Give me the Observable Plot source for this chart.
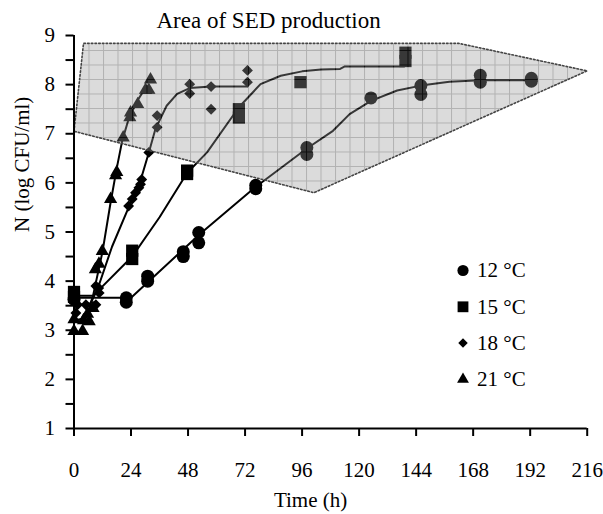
<!DOCTYPE html>
<html><head><meta charset="utf-8">
<script src="https://cdn.jsdelivr.net/npm/d3@7"></script>
<script src="https://cdn.jsdelivr.net/npm/@observablehq/plot@0.6"></script>
<style>body{margin:0;background:#fff;} #chart{width:603px;height:514px;}</style>
</head><body><div id="chart"></div>
<script>
// ---- data ----
const seriesNames = ["12 °C", "15 °C", "18 °C", "21 °C"];
const seriesSymbols = ["circle", "square", "diamond2", "triangle"];
const xTicks = [0, 24, 48, 72, 96, 120, 144, 168, 192, 216];
const yTicks = [1, 1.5, 2, 2.5, 3, 3.5, 4, 4.5, 5, 5.5, 6, 6.5, 7, 7.5, 8, 8.5, 9];
const titleText = "Area of SED production";
const xLabel = "Time (h)";
const yLabel = "N (log CFU/ml)";

// observed counts [time h, log CFU/ml]
const obs12 = [[0,3.63],[22,3.57],[22,3.66],[31,4.0],[31,4.1],[46,4.5],[46,4.6],[52.5,4.78],[52.5,4.99],[76.5,5.88],[76.5,5.95],[98,6.58],[98,6.72],[125,7.73],[146,7.8],[146,7.98],[171,8.05],[171,8.19],[192.5,8.07],[192.5,8.13]];
const obs15 = [[0,3.68],[0,3.78],[24.5,4.45],[24.5,4.62],[47.6,6.18],[47.6,6.25],[69.4,7.33],[69.4,7.5],[95.3,8.05],[139.5,8.48],[139.5,8.65]];
const obs18 = [[0.8,3.35],[1.5,3.52],[5,3.52],[9.2,3.52],[10.6,3.76],[9.2,3.9],[10.4,3.86],[23,5.53],[24.5,5.67],[25.9,5.8],[27.3,5.9],[28,5.97],[28.5,6.07],[31.5,6.62],[35,7.13],[35,7.37],[48.7,7.82],[48.7,8.01],[57.7,7.5],[57.7,7.96],[73,8.05],[73,8.29]];
const obs21 = [[0,2.98],[0,3.22],[3.6,2.98],[5.7,3.33],[6.4,3.18],[4,3.2],[8,3.45],[9,4.24],[10.5,4.35],[11.9,4.61],[15.4,5.67],[17.5,6.15],[18,6.22],[20.7,6.92],[23.5,7.33],[23.8,7.43],[26.8,7.6],[30.1,7.89],[31.5,7.89],[32.2,8.1]];

// fitted growth curves [time h, log CFU/ml]
const fit12 = [[0,3.66],[24,3.66],[53,4.96],[76,5.9],[98,6.7],[109,7.06],[116,7.4],[125,7.67],[136,7.88],[146,7.98],[158,8.06],[171,8.09],[193,8.09]];
const fit15 = [[0,3.7],[8,3.7],[24.5,4.5],[36,5.3],[47.6,6.2],[56,6.62],[69.4,7.54],[78.5,8.01],[87,8.18],[96,8.27],[104,8.31],[112,8.32],[114,8.37],[139,8.37]];
const fit18 = [[0,3.5],[7,3.55],[10,3.85],[16,4.7],[23,5.5],[28,6.05],[31.5,6.62],[34.3,7.1],[39,7.57],[43.4,7.81],[48.7,7.93],[57.7,7.96],[73,7.96]];
const fit21 = [[0,3.2],[5,3.25],[8,3.7],[12,4.6],[15.4,5.6],[18,6.3],[20.3,6.86],[23,7.3],[26.6,7.67],[29.4,7.88],[31.5,7.91]];

// area of SED production (polygon vertices)
const sedArea = [[0,7.05],[4,8.84],[162,8.84],[216,8.28],[101,5.8]];

// ---- build tables ----
const obsAll = [obs12, obs15, obs18, obs21];
const fitAll = [fit12, fit15, fit18, fit21];
const points = obsAll.flatMap((arr, i) => arr.map(([t, n]) => ({t, n, s: i})));
const curves = fitAll.flatMap((arr, i) => arr.map(([t, n]) => ({t, n, s: i})));
const area = sedArea.map(([t, n]) => ({t, n}));

const FONT = "'Liberation Serif', 'Times New Roman', serif";
const symR = [6.5, 6.9, 4.9, 4.9];
const legR = [5.6, 6.1, 4.3, 4.4];

const ns = "http://www.w3.org/2000/svg";
const defsMark = () => {
  const g = document.createElementNS(ns, "defs");
  g.innerHTML = `<pattern id="sedgrid" width="14.5" height="14.5" patternUnits="userSpaceOnUse" x="73.5" y="35">
      <rect width="14.5" height="14.5" fill="#9a9a9a"/>
      <path d="M0 0.5H14.5M0.5 0V14.5" stroke="#2a2a2a" stroke-width="1"/>
    </pattern>`;
  return g;
};

const marks = [
  defsMark,
  Plot.line(curves, {x: "t", y: "n", z: "s", stroke: "#000", strokeWidth: 2}),
  ...seriesSymbols.map((sym, i) => Plot.dot(points.filter(d => d.s === i), {x: "t", y: "n", symbol: () => sym, r: symR[i], fill: "#000", stroke: "none"})),
  Plot.line(area, {x: "t", y: "n", curve: "linear-closed", fill: "url(#sedgrid)", fillOpacity: 0.36, stroke: "none"}),
  Plot.line(area, {x: "t", y: "n", curve: "linear-closed", fill: "none", stroke: "#444", strokeWidth: 1.6, strokeDasharray: "1.6,2.1"}),
  Plot.ruleX([0], {stroke: "#000", strokeWidth: 2}),
  Plot.ruleY([1], {stroke: "#000", strokeWidth: 2}),
  Plot.axisX({ticks: xTicks, tickSize: 8, tickPadding: 26, label: null, fontSize: 21, strokeWidth: 2}),
  Plot.axisY({ticks: yTicks, tickSize: 8, tickPadding: 11, label: null, fontSize: 21, strokeWidth: 2,
    tickFormat: d => Number.isInteger(d) ? String(d) : ""}),
  ...seriesNames.map((name, i) => Plot.dot([name], {frameAnchor: "top-left", dx: 389, dy: 235 + 36.3 * i, symbol: () => seriesSymbols[i], r: legR[i], fill: "#000"})),
  ...seriesNames.map((name, i) => Plot.text([name], {frameAnchor: "top-left", lineAnchor: "middle", dx: 403, dy: 235 + 36.3 * i, text: d => d, textAnchor: "start", fontSize: 21})),
  Plot.text([titleText], {frameAnchor: "top", lineAnchor: "middle", dx: -62, dy: -15, text: d => d, fontSize: 23}),
  Plot.text([xLabel], {frameAnchor: "bottom", lineAnchor: "middle", dx: -20, dy: 72, text: d => d, fontSize: 21}),
  Plot.text([yLabel], {frameAnchor: "left", dx: -52, rotate: -90, text: d => d, fontSize: 21})
];

const chart = Plot.plot({
  width: 603, height: 514,
  marginLeft: 73.5, marginRight: 16.3, marginTop: 35, marginBottom: 86,
  x: {domain: [0, 216]},
  y: {domain: [1, 9]},
  style: {fontFamily: FONT, fontSize: "21px", color: "#000", background: "#fff", overflow: "visible"},
  marks
});
document.getElementById("chart").appendChild(chart);
</script>
</body></html>
